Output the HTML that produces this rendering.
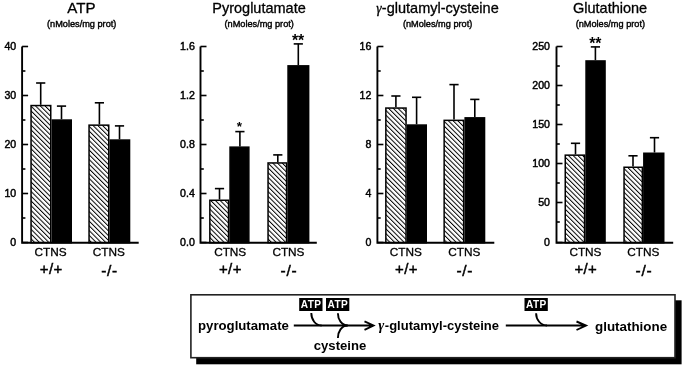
<!DOCTYPE html>
<html><head><meta charset="utf-8"><style>
html,body{margin:0;padding:0;background:#fff;}
svg{display:block;will-change:transform;}
text{font-family:"Liberation Sans", sans-serif;}
.r{stroke:#000;stroke-width:0.3px;}
.m{stroke:#000;stroke-width:0.45px;}
.s{stroke:#000;stroke-width:0.4px;}
</style></head><body>
<svg width="685" height="369" viewBox="0 0 685 369">
<defs>
<pattern id="hatch" patternUnits="userSpaceOnUse" width="3.35" height="3.35" patternTransform="rotate(-45)">
<rect width="3.35" height="3.35" fill="#fff"/>
<rect x="0" y="0" width="1.0" height="3.35" fill="#000"/>
</pattern>
</defs>
<rect width="685" height="369" fill="#fff"/>

<text x="81.4" y="12.6" font-size="15.1" class="r" text-anchor="middle">ATP</text>
<text x="81.7" y="27.0" font-size="9.2" class="s" text-anchor="middle">(nMoles/mg prot)</text>
<rect x="31.05" y="105.55" width="19.70" height="137.15" fill="url(#hatch)" stroke="#000" stroke-width="1.5"/>
<line x1="40.7" y1="104.8" x2="40.7" y2="82.9" stroke="#000" stroke-width="1.6"/>
<line x1="36.1" y1="83.0" x2="45.300000000000004" y2="83.0" stroke="#000" stroke-width="1.6"/>
<rect x="52.25" y="120.05" width="19.00" height="122.65" fill="#000" stroke="#000" stroke-width="1.5"/>
<line x1="61.5" y1="119.3" x2="61.5" y2="106.0" stroke="#000" stroke-width="1.6"/>
<line x1="56.9" y1="106.1" x2="66.1" y2="106.1" stroke="#000" stroke-width="1.6"/>
<rect x="89.05" y="125.15" width="19.70" height="117.55" fill="url(#hatch)" stroke="#000" stroke-width="1.5"/>
<line x1="99.4" y1="124.4" x2="99.4" y2="102.7" stroke="#000" stroke-width="1.6"/>
<line x1="94.80000000000001" y1="102.8" x2="104.0" y2="102.8" stroke="#000" stroke-width="1.6"/>
<rect x="110.25" y="140.05" width="19.30" height="102.65" fill="#000" stroke="#000" stroke-width="1.5"/>
<line x1="119.5" y1="139.3" x2="119.5" y2="125.8" stroke="#000" stroke-width="1.6"/>
<line x1="114.9" y1="125.89999999999999" x2="124.1" y2="125.89999999999999" stroke="#000" stroke-width="1.6"/>
<path d="M22.1 46.5 V242.7 H138.7" fill="none" stroke="#000" stroke-width="1.9"/>
<line x1="22.1" y1="46.5" x2="28.1" y2="46.5" stroke="#000" stroke-width="1.6"/>
<text x="16.2" y="49.5" font-size="10.6" class="m" text-anchor="end">40</text>
<line x1="22.1" y1="95.5" x2="28.1" y2="95.5" stroke="#000" stroke-width="1.6"/>
<text x="16.2" y="98.5" font-size="10.6" class="m" text-anchor="end">30</text>
<line x1="22.1" y1="144.5" x2="28.1" y2="144.5" stroke="#000" stroke-width="1.6"/>
<text x="16.2" y="147.5" font-size="10.6" class="m" text-anchor="end">20</text>
<line x1="22.1" y1="193.5" x2="28.1" y2="193.5" stroke="#000" stroke-width="1.6"/>
<text x="16.2" y="196.5" font-size="10.6" class="m" text-anchor="end">10</text>
<line x1="22.1" y1="242.5" x2="28.1" y2="242.5" stroke="#000" stroke-width="1.6"/>
<text x="16.2" y="245.5" font-size="10.6" class="m" text-anchor="end">0</text>
<line x1="22.1" y1="71" x2="25.400000000000002" y2="71" stroke="#000" stroke-width="1.6"/>
<line x1="22.1" y1="120" x2="25.400000000000002" y2="120" stroke="#000" stroke-width="1.6"/>
<line x1="22.1" y1="169" x2="25.400000000000002" y2="169" stroke="#000" stroke-width="1.6"/>
<line x1="22.1" y1="218" x2="25.400000000000002" y2="218" stroke="#000" stroke-width="1.6"/>
<text x="50.65" y="256.3" font-size="11.8" class="r" text-anchor="middle">CTNS</text>
<text x="108.9" y="256.3" font-size="11.8" class="r" text-anchor="middle">CTNS</text>
<text x="51.25" y="274.2" font-size="15" class="m" letter-spacing="0.4" text-anchor="middle">+/+</text>
<text x="109.6" y="275.6" font-size="15.5" class="m" letter-spacing="0.7" text-anchor="middle">-/-</text>
<text x="259.0" y="12.6" font-size="14.5" class="r" text-anchor="middle">Pyroglutamate</text>
<text x="259.2" y="27.0" font-size="9.2" class="s" text-anchor="middle">(nMoles/mg prot)</text>
<rect x="209.85" y="200.25" width="18.70" height="42.45" fill="url(#hatch)" stroke="#000" stroke-width="1.5"/>
<line x1="219.5" y1="199.5" x2="219.5" y2="188.5" stroke="#000" stroke-width="1.6"/>
<line x1="214.9" y1="188.6" x2="224.1" y2="188.6" stroke="#000" stroke-width="1.6"/>
<rect x="230.05" y="147.15" width="18.80" height="95.55" fill="#000" stroke="#000" stroke-width="1.5"/>
<line x1="239.9" y1="146.4" x2="239.9" y2="131.5" stroke="#000" stroke-width="1.6"/>
<line x1="235.3" y1="131.6" x2="244.5" y2="131.6" stroke="#000" stroke-width="1.6"/>
<rect x="268.05" y="162.95" width="18.50" height="79.75" fill="url(#hatch)" stroke="#000" stroke-width="1.5"/>
<line x1="277.8" y1="162.2" x2="277.8" y2="154.8" stroke="#000" stroke-width="1.6"/>
<line x1="273.2" y1="154.9" x2="282.40000000000003" y2="154.9" stroke="#000" stroke-width="1.6"/>
<rect x="288.05" y="65.85" width="20.60" height="176.85" fill="#000" stroke="#000" stroke-width="1.5"/>
<line x1="298.3" y1="65.1" x2="298.3" y2="43.8" stroke="#000" stroke-width="1.6"/>
<line x1="293.7" y1="43.9" x2="302.90000000000003" y2="43.9" stroke="#000" stroke-width="1.6"/>
<path d="M200.5 46.5 V242.7 H316.8" fill="none" stroke="#000" stroke-width="1.9"/>
<line x1="200.5" y1="46.5" x2="206.5" y2="46.5" stroke="#000" stroke-width="1.6"/>
<text x="194.8" y="49.5" font-size="10.6" class="m" text-anchor="end">1.6</text>
<line x1="200.5" y1="95.5" x2="206.5" y2="95.5" stroke="#000" stroke-width="1.6"/>
<text x="194.8" y="98.5" font-size="10.6" class="m" text-anchor="end">1.2</text>
<line x1="200.5" y1="144.5" x2="206.5" y2="144.5" stroke="#000" stroke-width="1.6"/>
<text x="194.8" y="147.5" font-size="10.6" class="m" text-anchor="end">0.8</text>
<line x1="200.5" y1="193.5" x2="206.5" y2="193.5" stroke="#000" stroke-width="1.6"/>
<text x="194.8" y="196.5" font-size="10.6" class="m" text-anchor="end">0.4</text>
<line x1="200.5" y1="242.5" x2="206.5" y2="242.5" stroke="#000" stroke-width="1.6"/>
<text x="194.8" y="245.5" font-size="10.6" class="m" text-anchor="end">0.0</text>
<line x1="200.5" y1="71" x2="203.8" y2="71" stroke="#000" stroke-width="1.6"/>
<line x1="200.5" y1="120" x2="203.8" y2="120" stroke="#000" stroke-width="1.6"/>
<line x1="200.5" y1="169" x2="203.8" y2="169" stroke="#000" stroke-width="1.6"/>
<line x1="200.5" y1="218" x2="203.8" y2="218" stroke="#000" stroke-width="1.6"/>
<text x="230.2" y="256.3" font-size="11.8" class="r" text-anchor="middle">CTNS</text>
<text x="288.45" y="256.3" font-size="11.8" class="r" text-anchor="middle">CTNS</text>
<text x="230.4" y="274.2" font-size="15" class="m" letter-spacing="0.4" text-anchor="middle">+/+</text>
<text x="288.9" y="275.6" font-size="15.5" class="m" letter-spacing="0.7" text-anchor="middle">-/-</text>
<text x="239.4" y="130.9" font-size="13.5" font-weight="bold" text-anchor="middle">*</text>
<text x="298.05" y="45.8" font-size="15.8" font-weight="bold" text-anchor="middle">**</text>
<text x="376.2" y="12.6" font-size="14.5" class="r"><tspan font-family="Liberation Serif" font-style="italic" font-size="13.6">γ</tspan><tspan dx="0.3">-glutamyl-cysteine</tspan></text>
<text x="437.6" y="27.0" font-size="9.2" class="s" text-anchor="middle">(nMoles/mg prot)</text>
<rect x="385.85" y="108.05" width="20.20" height="134.65" fill="url(#hatch)" stroke="#000" stroke-width="1.5"/>
<line x1="395.9" y1="107.3" x2="395.9" y2="95.9" stroke="#000" stroke-width="1.6"/>
<line x1="391.29999999999995" y1="96.0" x2="400.5" y2="96.0" stroke="#000" stroke-width="1.6"/>
<rect x="407.55" y="125.05" width="18.70" height="117.65" fill="#000" stroke="#000" stroke-width="1.5"/>
<line x1="416.6" y1="124.3" x2="416.6" y2="97.2" stroke="#000" stroke-width="1.6"/>
<line x1="412.0" y1="97.3" x2="421.20000000000005" y2="97.3" stroke="#000" stroke-width="1.6"/>
<rect x="444.15" y="120.35" width="19.50" height="122.35" fill="url(#hatch)" stroke="#000" stroke-width="1.5"/>
<line x1="454.0" y1="119.6" x2="454.0" y2="84.5" stroke="#000" stroke-width="1.6"/>
<line x1="449.4" y1="84.6" x2="458.6" y2="84.6" stroke="#000" stroke-width="1.6"/>
<rect x="465.15" y="117.85" width="19.40" height="124.85" fill="#000" stroke="#000" stroke-width="1.5"/>
<line x1="474.8" y1="117.1" x2="474.8" y2="99.3" stroke="#000" stroke-width="1.6"/>
<line x1="470.2" y1="99.39999999999999" x2="479.40000000000003" y2="99.39999999999999" stroke="#000" stroke-width="1.6"/>
<path d="M377.4 46.5 V242.7 H494.3" fill="none" stroke="#000" stroke-width="1.9"/>
<line x1="377.4" y1="46.5" x2="383.4" y2="46.5" stroke="#000" stroke-width="1.6"/>
<text x="371.3" y="49.5" font-size="10.6" class="m" text-anchor="end">16</text>
<line x1="377.4" y1="95.5" x2="383.4" y2="95.5" stroke="#000" stroke-width="1.6"/>
<text x="371.3" y="98.5" font-size="10.6" class="m" text-anchor="end">12</text>
<line x1="377.4" y1="144.5" x2="383.4" y2="144.5" stroke="#000" stroke-width="1.6"/>
<text x="371.3" y="147.5" font-size="10.6" class="m" text-anchor="end">8</text>
<line x1="377.4" y1="193.5" x2="383.4" y2="193.5" stroke="#000" stroke-width="1.6"/>
<text x="371.3" y="196.5" font-size="10.6" class="m" text-anchor="end">4</text>
<line x1="377.4" y1="242.5" x2="383.4" y2="242.5" stroke="#000" stroke-width="1.6"/>
<text x="371.3" y="245.5" font-size="10.6" class="m" text-anchor="end">0</text>
<line x1="377.4" y1="71" x2="380.7" y2="71" stroke="#000" stroke-width="1.6"/>
<line x1="377.4" y1="120" x2="380.7" y2="120" stroke="#000" stroke-width="1.6"/>
<line x1="377.4" y1="169" x2="380.7" y2="169" stroke="#000" stroke-width="1.6"/>
<line x1="377.4" y1="218" x2="380.7" y2="218" stroke="#000" stroke-width="1.6"/>
<text x="405.75" y="256.3" font-size="11.8" class="r" text-anchor="middle">CTNS</text>
<text x="464.25" y="256.3" font-size="11.8" class="r" text-anchor="middle">CTNS</text>
<text x="406.45" y="274.2" font-size="15" class="m" letter-spacing="0.4" text-anchor="middle">+/+</text>
<text x="464.8" y="275.6" font-size="15.5" class="m" letter-spacing="0.7" text-anchor="middle">-/-</text>
<text x="610.1" y="12.6" font-size="14.5" class="r" text-anchor="middle">Glutathione</text>
<text x="610.35" y="27.0" font-size="9.2" class="s" text-anchor="middle">(nMoles/mg prot)</text>
<rect x="565.25" y="155.15" width="19.30" height="87.55" fill="url(#hatch)" stroke="#000" stroke-width="1.5"/>
<line x1="575.5" y1="154.4" x2="575.5" y2="143.2" stroke="#000" stroke-width="1.6"/>
<line x1="570.9" y1="143.29999999999998" x2="580.1" y2="143.29999999999998" stroke="#000" stroke-width="1.6"/>
<rect x="586.05" y="60.95" width="19.00" height="181.75" fill="#000" stroke="#000" stroke-width="1.5"/>
<line x1="595.4" y1="60.2" x2="595.4" y2="46.8" stroke="#000" stroke-width="1.6"/>
<line x1="590.8" y1="46.9" x2="600.0" y2="46.9" stroke="#000" stroke-width="1.6"/>
<rect x="624.05" y="167.25" width="18.30" height="75.45" fill="url(#hatch)" stroke="#000" stroke-width="1.5"/>
<line x1="633.0" y1="166.5" x2="633.0" y2="155.7" stroke="#000" stroke-width="1.6"/>
<line x1="628.4" y1="155.79999999999998" x2="637.6" y2="155.79999999999998" stroke="#000" stroke-width="1.6"/>
<rect x="643.85" y="153.25" width="19.90" height="89.45" fill="#000" stroke="#000" stroke-width="1.5"/>
<line x1="654.5" y1="152.5" x2="654.5" y2="137.6" stroke="#000" stroke-width="1.6"/>
<line x1="649.9" y1="137.7" x2="659.1" y2="137.7" stroke="#000" stroke-width="1.6"/>
<path d="M556.5 46.5 V242.7 H673.2" fill="none" stroke="#000" stroke-width="1.9"/>
<line x1="556.5" y1="46.5" x2="562.5" y2="46.5" stroke="#000" stroke-width="1.6"/>
<text x="550.0" y="49.5" font-size="10.6" class="m" text-anchor="end">250</text>
<line x1="556.5" y1="85.5" x2="562.5" y2="85.5" stroke="#000" stroke-width="1.6"/>
<text x="550.0" y="88.5" font-size="10.6" class="m" text-anchor="end">200</text>
<line x1="556.5" y1="124.5" x2="562.5" y2="124.5" stroke="#000" stroke-width="1.6"/>
<text x="550.0" y="127.5" font-size="10.6" class="m" text-anchor="end">150</text>
<line x1="556.5" y1="163.5" x2="562.5" y2="163.5" stroke="#000" stroke-width="1.6"/>
<text x="550.0" y="166.5" font-size="10.6" class="m" text-anchor="end">100</text>
<line x1="556.5" y1="202.5" x2="562.5" y2="202.5" stroke="#000" stroke-width="1.6"/>
<text x="550.0" y="205.5" font-size="10.6" class="m" text-anchor="end">50</text>
<line x1="556.5" y1="242.5" x2="562.5" y2="242.5" stroke="#000" stroke-width="1.6"/>
<text x="550.0" y="245.5" font-size="10.6" class="m" text-anchor="end">0</text>
<line x1="556.5" y1="66" x2="559.8" y2="66" stroke="#000" stroke-width="1.6"/>
<line x1="556.5" y1="105" x2="559.8" y2="105" stroke="#000" stroke-width="1.6"/>
<line x1="556.5" y1="144" x2="559.8" y2="144" stroke="#000" stroke-width="1.6"/>
<line x1="556.5" y1="183" x2="559.8" y2="183" stroke="#000" stroke-width="1.6"/>
<line x1="556.5" y1="222" x2="559.8" y2="222" stroke="#000" stroke-width="1.6"/>
<text x="585.45" y="256.3" font-size="11.8" class="r" text-anchor="middle">CTNS</text>
<text x="643.4" y="256.3" font-size="11.8" class="r" text-anchor="middle">CTNS</text>
<text x="585.85" y="274.2" font-size="15" class="m" letter-spacing="0.4" text-anchor="middle">+/+</text>
<text x="643.9" y="275.6" font-size="15.5" class="m" letter-spacing="0.7" text-anchor="middle">-/-</text>
<text x="595.3" y="49.4" font-size="15.8" font-weight="bold" text-anchor="middle">**</text>
<rect x="196.2" y="300.3" width="485.4" height="64" fill="#000"/>
<rect x="190.9" y="294.8" width="484.1" height="62.9" fill="#fff" stroke="#222" stroke-width="1.6"/>
<text x="198" y="330.0" font-size="13.2" font-weight="bold">pyroglutamate</text>
<text x="378.2" y="330.1" font-size="13" font-weight="bold"><tspan font-family="Liberation Serif" font-style="italic" font-size="14.5">γ</tspan><tspan dx="0.6">-glutamyl-cysteine</tspan></text>
<text x="595" y="330.6" font-size="13.4" font-weight="bold">glutathione</text>
<text x="340" y="350.4" font-size="13.1" font-weight="bold" text-anchor="middle">cysteine</text>
<rect x="299.2" y="298" width="23.3" height="13" fill="#000"/>
<text x="311.05" y="308.2" font-size="10.1" letter-spacing="0.4" font-weight="bold" fill="#fff" text-anchor="middle">ATP</text>
<rect x="326.0" y="298" width="23.3" height="13" fill="#000"/>
<text x="337.85" y="308.2" font-size="10.1" letter-spacing="0.4" font-weight="bold" fill="#fff" text-anchor="middle">ATP</text>
<rect x="524.5" y="298" width="23.3" height="13" fill="#000"/>
<text x="536.35" y="308.2" font-size="10.1" letter-spacing="0.4" font-weight="bold" fill="#fff" text-anchor="middle">ATP</text>
<path d="M293.8 325.5 H372.5 M364.5 321.3 L373.5 325.5 L364.5 329.8" fill="none" stroke="#000" stroke-width="1.9"/>
<path d="M505.8 325.5 H585 M576.5 321.5 L586 325.5 L576.5 330" fill="none" stroke="#000" stroke-width="1.9"/>
<path d="M311.3 313.1 C311.3 319.6 315.4 325.5 321.6 325.5" fill="none" stroke="#000" stroke-width="1.9"/>
<path d="M337.9 313.2 C337.9 319.4 341.6 325.5 347.6 325.5" fill="none" stroke="#000" stroke-width="1.9"/>
<path d="M337.9 338 C337.9 331.6 341.6 325.5 347.6 325.5" fill="none" stroke="#000" stroke-width="1.9"/>
<path d="M536.1 313.2 C536.1 319.6 540.6 325.5 547 325.5" fill="none" stroke="#000" stroke-width="1.9"/>
</svg></body></html>
